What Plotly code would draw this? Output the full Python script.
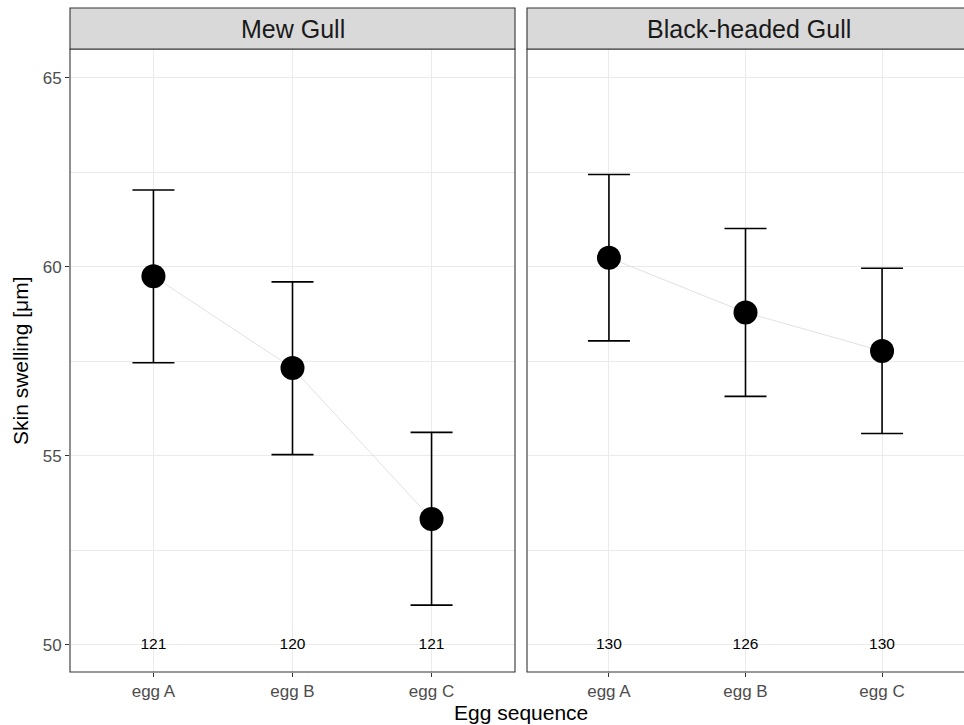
import plotly.graph_objects as go

eggs = ["egg A", "egg B", "egg C"]
species = ["Mew Gull", "Black-headed Gull"]
mew_mean = [59.75, 57.32, 53.33]
mew_upper = [62.03, 59.60, 55.62]
mew_lower = [57.46, 55.03, 51.05]
bhg_mean = [60.24, 58.79, 57.77]
bhg_upper = [62.44, 61.01, 59.96]
bhg_lower = [58.04, 56.57, 55.59]
mew_n = [121, 120, 121]
bhg_n = [130, 126, 130]
n_y = 50

W, H = 964, 725
px = lambda v: v / W
py = lambda v: 1 - v / H

doms = [[px(70), px(515)], [px(527), 1.0]]
ydom = [py(672), py(49)]
yr = [49.28, 65.76]
FONT = "Liberation Sans"

fig = go.Figure()
data = [(mew_mean, mew_upper, mew_lower, mew_n), (bhg_mean, bhg_upper, bhg_lower, bhg_n)]
for i, (m, u, l, n) in enumerate(data):
    xa = "x" if i == 0 else "x2"
    ya = "y" if i == 0 else "y2"
    fig.add_trace(go.Scatter(x=eggs, y=m, mode="lines", line=dict(color="#d9d9d9", width=0.8),
                             xaxis=xa, yaxis=ya, showlegend=False, hoverinfo="skip"))
    fig.add_trace(go.Scatter(x=eggs, y=m, mode="markers",
                             marker=dict(color="black", size=24),
                             error_y=dict(type="data", symmetric=False,
                                          array=[a - b for a, b in zip(u, m)],
                                          arrayminus=[b - c for b, c in zip(m, l)],
                                          color="black", thickness=1.6, width=21),
                             xaxis=xa, yaxis=ya, showlegend=False))
    fig.add_trace(go.Scatter(x=eggs, y=[n_y] * 3, mode="text", text=[str(v) for v in n],
                             textfont=dict(size=15.5, color="black", family=FONT),
                             xaxis=xa, yaxis=ya, showlegend=False, hoverinfo="skip"))

axcommon = dict(showgrid=True, gridcolor="#ebebeb", gridwidth=1.1, zeroline=False,
                ticks="outside", ticklen=4, tickcolor="#333333", tickwidth=1,
                tickfont=dict(size=17, color="#4d4d4d", family=FONT),
                showline=False)
for i in range(2):
    sfx = "" if i == 0 else "2"
    fig.update_layout(**{
        "xaxis" + sfx: dict(axcommon, domain=doms[i], anchor="y" + sfx,
                            type="category", range=[-0.6, 2.6]),
        "yaxis" + sfx: dict(axcommon, domain=ydom, anchor="x" + sfx, range=yr,
                            tickvals=[50, 55, 60, 65],
                            minor=dict(tickvals=[52.5, 57.5, 62.5], showgrid=True,
                                       gridcolor="#ebebeb", gridwidth=0.6, ticks=""),
                            showticklabels=(i == 0), ticks="outside" if i == 0 else "",
                            matches="y" if i == 1 else None),
    })

shapes = []
for i in range(2):
    x0, x1 = doms[i]
    if i == 1:
        x1 = 1.003
    shapes.append(dict(type="rect", xref="paper", yref="paper", x0=x0, x1=x1, y0=ydom[0], y1=ydom[1],
                       line=dict(color="#333333", width=1.1), fillcolor="rgba(0,0,0,0)", layer="above"))
    shapes.append(dict(type="rect", xref="paper", yref="paper", x0=x0, x1=x1, y0=ydom[1], y1=py(8),
                       line=dict(color="#333333", width=1.1), fillcolor="#d9d9d9", layer="above"))
annotations = []
strip_cx = [px(292.5), px(749)]
for i in range(2):
    annotations.append(dict(text=species[i], xref="paper", yref="paper",
                            x=strip_cx[i],
                            y=(ydom[1] + py(8)) / 2, showarrow=False, xanchor="center", yanchor="middle",
                            font=dict(size=25, color="#1a1a1a", family=FONT)))
annotations.append(dict(text="Egg sequence", xref="paper", yref="paper", x=px(521), y=py(712),
                        showarrow=False, xanchor="center", yanchor="middle",
                        font=dict(size=21, color="black", family=FONT)))
annotations.append(dict(text="Skin swelling [μm]", xref="paper", yref="paper", x=px(21), y=py(361),
                        showarrow=False, textangle=-90, xanchor="center", yanchor="middle",
                        font=dict(size=21, color="black", family=FONT)))

fig.update_layout(width=W, height=H, margin=dict(l=0, r=0, t=0, b=0),
                  plot_bgcolor="white", paper_bgcolor="white",
                  shapes=shapes, annotations=annotations)
fig.write_html("out.html", config={"displayModeBar": False},
               post_script="document.body.style.margin='0';document.body.style.overflow='hidden';")
